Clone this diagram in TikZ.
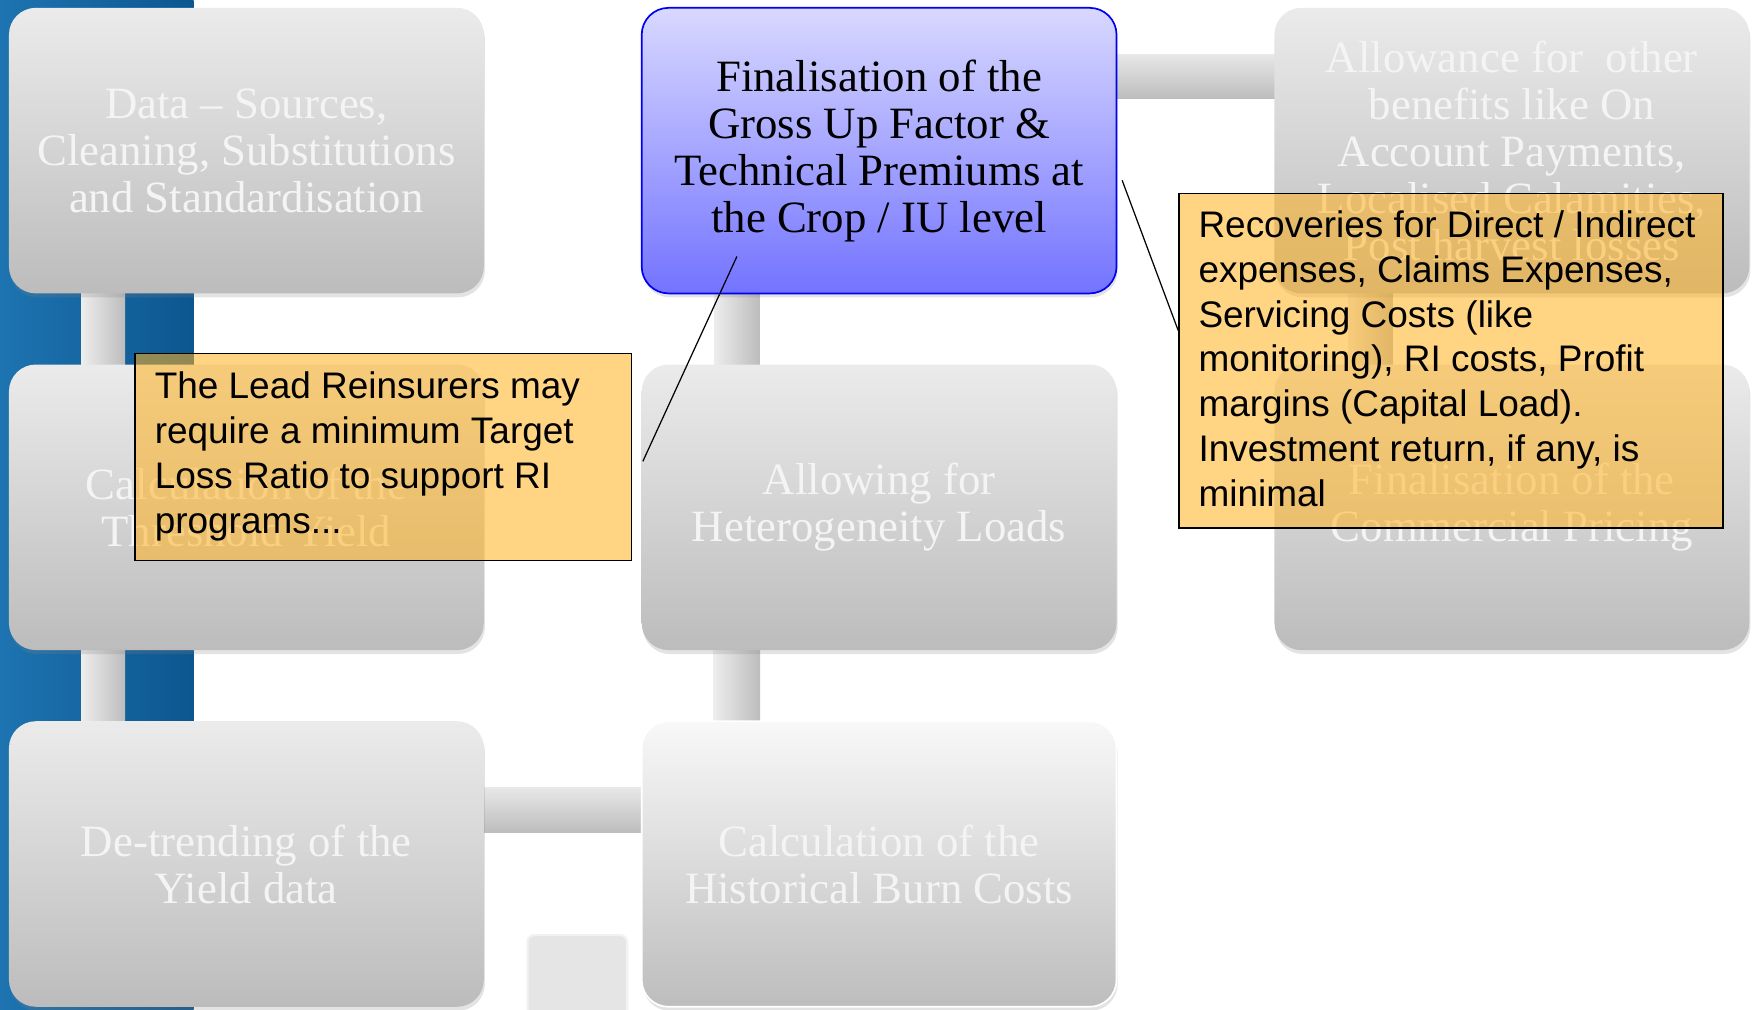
\documentclass[tikz,border=0pt]{standalone}
\usepackage{fontspec}
\setmainfont{Liberation Serif}
\newfontfamily\arialf{Liberation Sans}
\usetikzlibrary{calc,shadows}
\definecolor{stripL}{HTML}{1D74B0}
\definecolor{stripR}{HTML}{0D5690}
\definecolor{gtop}{HTML}{EBEBEB}
\definecolor{gbot}{HTML}{BCBCBC}
\definecolor{gtxt}{HTML}{F4F4F4}
\definecolor{wtop}{HTML}{F8F8F8}
\definecolor{wbot}{HTML}{BDBDBD}
\definecolor{btop}{HTML}{D8D8FF}
\definecolor{bbot}{HTML}{7373FF}
\definecolor{bborder}{HTML}{0000F0}
\definecolor{barL}{HTML}{EDEDED}
\definecolor{barR}{HTML}{BCBCBC}
\definecolor{barT}{HTML}{E8E8E8}
\definecolor{barB}{HTML}{BDBDBD}
\definecolor{calfill}{HTML}{FFB21F}
\definecolor{stubfill}{HTML}{E5E5E5}
\definecolor{stubrim}{HTML}{F2F2F2}
\pgfdeclarelayer{bg}
\pgfsetlayers{bg,main}
\tikzset{
  gbox/.style={rectangle, rounded corners=24pt, minimum width=424pt, minimum height=255pt,
    inner sep=0pt, top color=gtop, bottom color=gbot, text=gtxt, align=center,
    font=\fontsize{40}{42}\selectfont,
    drop shadow={opacity=0.22, shadow xshift=1pt, shadow yshift=-3.5pt}},
  hbox/.style={gbox, top color=btop, bottom color=bbot, draw=bborder, line width=1.5pt, text=black},
  wbox/.style={gbox, top color=wtop, bottom color=wbot, draw=white, line width=1.5pt},
  vbar/.style={left color=barL, right color=barR},
  hbar/.style={top color=barT, bottom color=barB},
  callout/.style={rectangle, draw=black, line width=1.3pt, fill=calfill, fill opacity=0.55,
    inner sep=0pt, anchor=north west},
  calltext/.style={font=\arialf\fontsize{33}{40}\selectfont, text=black, align=left,
    inner sep=0pt, anchor=north west},
  pointer/.style={line width=1.1pt, draw=black},
  stub/.style={rectangle, rounded corners=6pt, fill=stubfill, draw=stubrim, line width=2pt,
    minimum width=89pt, minimum height=86pt}
}
\begin{document}
\begin{tikzpicture}[x=1pt,y=-1pt]
\useasboundingbox (0,0) rectangle (1568,901);
\begin{pgfonlayer}{bg}
\shade[left color=stripL, right color=stripR] (0,0) rectangle (173,901);
\end{pgfonlayer}

\node[gbox] (b11) at (220,134.5) {Data – Sources,\\Cleaning, Substitutions\\and Standardisation};
\node[gbox] (b12) at (220,453) {Calculation of the\\Threshold Yield};
\node[gbox] (b13) at (220,771.5) {De-trending of the\\Yield data};
\node[wbox] (b23) at (785,771.5) {Calculation of the\\Historical Burn Costs};
\node[gbox] (b22) at (785,453) {Allowing for\\Heterogeneity Loads};
\node[hbox] (b21) at (785,134.5) {Finalisation of the\\Gross Up Factor \&\\Technical Premiums at\\the Crop / IU level};
\node[gbox] (b31) at (1350,134.5) {Allowance for\ \ other\\benefits like On\\Account Payments,\\Localised Calamities,\\Post harvest losses};
\node[gbox] (b32) at (1350,453) {Finalisation of the\\Commercial Pricing};

\begin{pgfonlayer}{bg}
\shade[vbar] ($(b11.south west)+(65,-3)$) rectangle ($(b12.north west)+(104,3)$);
\shade[vbar] ($(b12.south west)+(65,-3)$) rectangle ($(b13.north west)+(104,3)$);
\shade[hbar] ($(b13.north east)+(-3,59)$) rectangle ($(b23.north west)+(3,100)$);
\shade[vbar] ($(b23.north west)+(65,3)$) rectangle ($(b22.south west)+(106,-3)$);
\shade[vbar] ($(b22.north west)+(65,3)$) rectangle ($(b21.south west)+(106,-3)$);
\shade[hbar] ($(b21.north east)+(-3,42)$) rectangle ($(b31.north west)+(3,81)$);
\shade[vbar] ($(b31.south west)+(66,-3)$) rectangle ($(b32.north west)+(106,3)$);
\end{pgfonlayer}

\node[stub] (stub) at (515.5,878) {};

\node[callout, minimum width=443pt, minimum height=185pt] (c1) at (120,315) {};
\node[calltext] (t1) at (138,332) {The Lead Reinsurers may\\require a minimum Target\\Loss Ratio to support RI\\programs...};
\node[callout, minimum width=486pt, minimum height=299pt] (c2) at (1052,172) {};
\node[calltext] (t2) at (1070,188) {Recoveries for Direct / Indirect\\expenses, Claims Expenses,\\Servicing Costs (like\\monitoring), RI costs, Profit\\margins (Capital Load).\\Investment return, if any, is\\minimal};

\coordinate (p1a) at (574,412);
\coordinate (p1b) at (658,229);
\draw[pointer] (p1a) -- (p1b);
\coordinate (p2a) at (1052,295);
\coordinate (p2b) at (1002,161);
\draw[pointer] (p2a) -- (p2b);
\end{tikzpicture}
\end{document}
